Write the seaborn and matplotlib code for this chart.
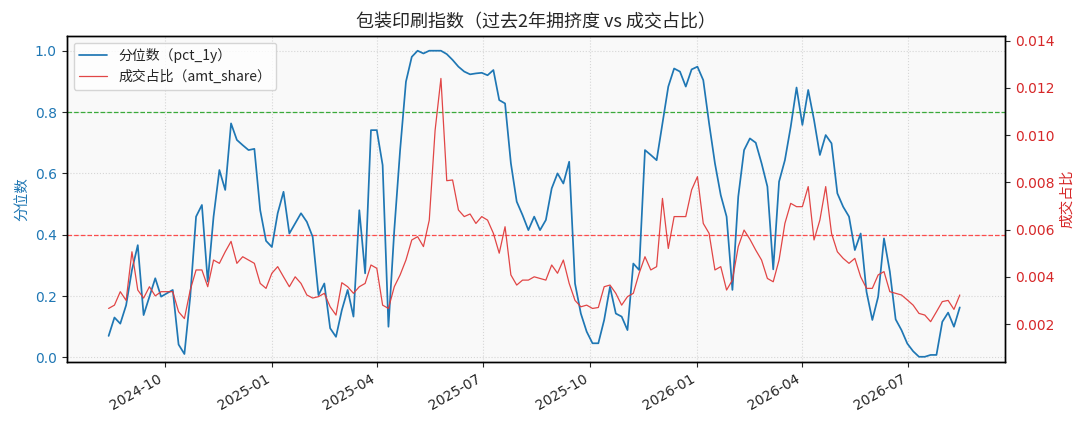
import numpy as np
import pandas as pd
import matplotlib
matplotlib.use("Agg")
import matplotlib.pyplot as plt
import matplotlib.dates as mdates
import seaborn as sns

# ---- data (~5-day sampling) ----
start_date = "2024-08-14"
step = "5D"

pct_1y = [
    0.07, 0.13, 0.11, 0.17, 0.285, 0.366, 0.138, 0.198, 0.258, 0.198,
    0.209, 0.22, 0.042, 0.011, 0.198, 0.459, 0.497, 0.247, 0.459, 0.611,
    0.546, 0.763, 0.709, 0.692, 0.676, 0.68, 0.48, 0.38, 0.36, 0.47,
    0.54, 0.404, 0.437, 0.47, 0.442, 0.393, 0.203, 0.241, 0.095, 0.067,
    0.154, 0.22, 0.133, 0.48, 0.274, 0.741, 0.741, 0.627, 0.1, 0.415,
    0.676, 0.899, 0.98, 1.0, 0.991, 1.0, 1.0, 1.0, 0.989, 0.97,
    0.948, 0.932, 0.923, 0.926, 0.928, 0.92, 0.937, 0.839, 0.828, 0.633,
    0.508, 0.464, 0.415, 0.459, 0.415, 0.448, 0.551, 0.6, 0.567, 0.638,
    0.241, 0.143, 0.084, 0.046, 0.046, 0.122, 0.23, 0.143, 0.133, 0.089,
    0.306, 0.285, 0.676, 0.66, 0.643, 0.763, 0.883, 0.942, 0.932, 0.883,
    0.939, 0.948, 0.904, 0.763, 0.633, 0.529, 0.459, 0.22, 0.524, 0.676,
    0.714, 0.7, 0.633, 0.557, 0.287, 0.573, 0.643, 0.752, 0.88, 0.758,
    0.872, 0.774, 0.66, 0.725, 0.698, 0.535, 0.491, 0.459, 0.35, 0.404,
    0.214, 0.122, 0.198, 0.388, 0.28, 0.124, 0.089, 0.045, 0.02, 0.002,
    0.002, 0.008, 0.008, 0.116, 0.146, 0.1, 0.163,
]

amt_share = [
    0.00266, 0.0028, 0.00337, 0.0030, 0.00506, 0.00344, 0.0031, 0.00358, 0.00319, 0.00337,
    0.00337, 0.00337, 0.00252, 0.00223, 0.00344, 0.00429, 0.00429, 0.00358, 0.00471, 0.00457,
    0.00506, 0.0055, 0.00457, 0.00485, 0.00471, 0.00457, 0.00372, 0.00351, 0.00415, 0.00443,
    0.004, 0.00358, 0.004, 0.00372, 0.00323, 0.0031, 0.00316, 0.0033, 0.00273, 0.00238,
    0.00375, 0.00358, 0.0033, 0.00358, 0.00372, 0.0045, 0.00436, 0.0028, 0.00266, 0.00358,
    0.00408, 0.00471, 0.00556, 0.0057, 0.00528, 0.0064, 0.0102, 0.0124, 0.00807, 0.0081,
    0.00683, 0.00655, 0.00666, 0.00626, 0.00655, 0.0064, 0.00584, 0.005, 0.00612, 0.00408,
    0.00365, 0.00386, 0.00386, 0.004, 0.00393, 0.00386, 0.0045, 0.00415, 0.00471, 0.00372,
    0.0030, 0.00273, 0.0028, 0.00266, 0.0027, 0.00358, 0.00365, 0.0033, 0.0028, 0.00316,
    0.0033, 0.00415, 0.00485, 0.00429, 0.00443, 0.00732, 0.0052, 0.00655, 0.00655, 0.00655,
    0.00768, 0.00824, 0.00626, 0.00584, 0.00429, 0.00443, 0.00344, 0.00386, 0.00528, 0.00598,
    0.00559, 0.00513, 0.00471, 0.00393, 0.00379, 0.00471, 0.00626, 0.00711, 0.00697, 0.00697,
    0.00782, 0.00556, 0.0064, 0.00782, 0.00584, 0.00506, 0.00478, 0.00457, 0.00478, 0.004,
    0.00351, 0.00351, 0.00408, 0.00422, 0.00337, 0.0033, 0.00323, 0.00302, 0.0028, 0.00245,
    0.00238, 0.0021, 0.00252, 0.00295, 0.003, 0.00262, 0.00323,
]

hline_values = [0.8, 0.4]
title = "包装印刷指数（过去2年拥挤度 vs 成交占比）"
label_pct = "分位数（pct_1y）"
label_amt = "成交占比（amt_share）"

dates = pd.date_range(start_date, periods=len(pct_1y), freq=step)
df = pd.DataFrame({"date": dates, "pct": pct_1y, "amt": amt_share})

# ---- style ----
sns.set_style("ticks")
plt.rcParams["font.family"] = ["Noto Sans CJK SC", "DejaVu Sans"]
plt.rcParams["axes.unicode_minus"] = False

blue = "#1f77b4"
red = "#d62728"

fig = plt.figure(figsize=(10.89, 4.29), dpi=100)
ax1 = fig.add_axes([0.0612, 0.1555, 0.9231 - 0.0612, 0.9168 - 0.1555])
ax1.set_facecolor("#f9f9f9")
ax2 = ax1.twinx()

ax1.grid(True, linestyle=":", color="#d6d6d6", linewidth=0.8, zorder=0)
ax1.set_axisbelow(True)

sns.lineplot(data=df, x="date", y="pct", ax=ax1, color=blue, linewidth=1.25,
             label=label_pct, legend=False, zorder=3)
sns.lineplot(data=df, x="date", y="amt", ax=ax2, color="#e03c3c", linewidth=0.9,
             alpha=0.95, label=label_amt, legend=False)

ax1.axhline(hline_values[0], color="#3aaa3a", linestyle="--", linewidth=0.9, zorder=2)
ax1.axhline(hline_values[1], color="#ff3030", linestyle="--", linewidth=0.9,
            alpha=0.85, zorder=2)

ax1.set_ylim(-0.016, 1.049)
ax2.set_ylim(0.00038, 0.01421)
ax1.set_xlim(pd.Timestamp("2024-07-09"), pd.Timestamp("2026-09-22"))

ax1.xaxis.set_major_locator(mdates.MonthLocator(bymonth=[1, 4, 7, 10]))
ax1.xaxis.set_major_formatter(mdates.DateFormatter("%Y-%m"))
for lbl in ax1.get_xticklabels():
    lbl.set_rotation(30)
    lbl.set_ha("right")
    lbl.set_fontfamily(["DejaVu Sans"])

ax1.set_yticks([0.0, 0.2, 0.4, 0.6, 0.8, 1.0])
ax2.set_yticks([0.002, 0.004, 0.006, 0.008, 0.010, 0.012, 0.014])
ax1.tick_params(axis="y", labelcolor=blue, labelsize=10)
ax2.tick_params(axis="y", labelcolor=red, labelsize=10)
ax1.tick_params(axis="x", labelsize=10)
for lbl in ax1.get_yticklabels() + ax2.get_yticklabels():
    lbl.set_fontfamily(["DejaVu Sans"])

ax1.set_xlabel("")
ax1.set_ylabel("分位数", color=blue, fontsize=10.5)
ax2.set_ylabel("成交占比", color=red, fontsize=10.5)
ax1.set_title(title, fontsize=13, pad=6)

for ax in (ax1, ax2):
    for s in ax.spines.values():
        s.set_color("black")
        s.set_linewidth(1.0)

h1, l1 = ax1.get_legend_handles_labels()
h2, l2 = ax2.get_legend_handles_labels()
ax1.legend(h1 + h2, l1 + l2, loc="upper left", fontsize=10, frameon=True)

fig.savefig("out.png", dpi=100)
